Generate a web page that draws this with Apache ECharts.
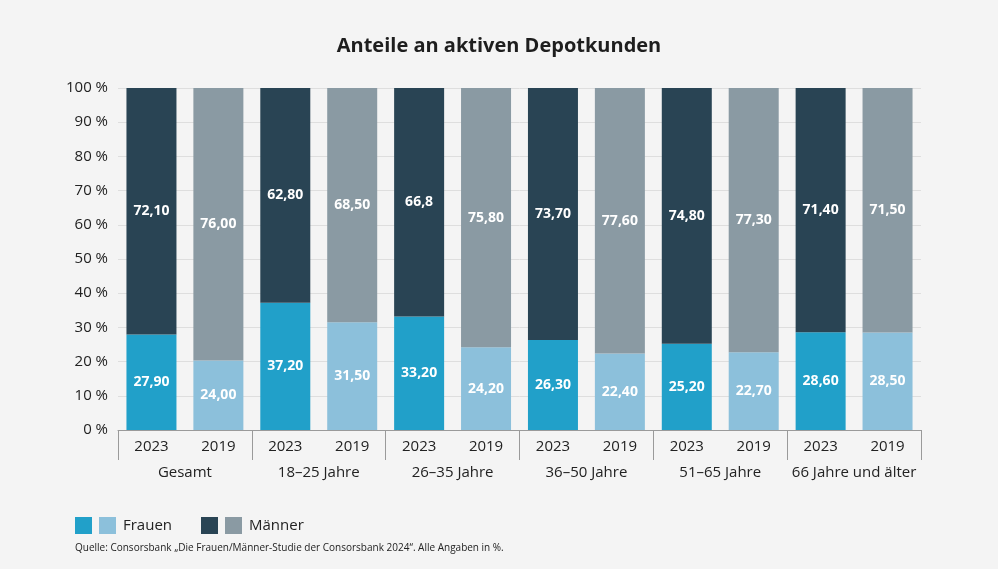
<!DOCTYPE html>
<html><head><meta charset="utf-8">
<script src="https://cdn.jsdelivr.net/npm/echarts@6/dist/echarts.min.js"></script>
<style>html,body{margin:0;padding:0;background:#f4f4f4;}#c{width:998px;height:569px;}</style>
</head><body><div id="c"></div>
<script>
const groups = ['Gesamt','18–25 Jahre','26–35 Jahre','36–50 Jahre','51–65 Jahre','66 Jahre und älter'];
const years = ['2023','2019'];
// bar heights as drawn in the reference
const frauen = [27.9,20.3,37.2,31.5,33.2,24.2,26.3,22.4,25.2,22.7,28.6,28.5];
const maenner = [72.1,79.7,62.8,68.5,66.8,75.8,73.7,77.6,74.8,77.3,71.4,71.5];
// printed value labels
const frauenLabels = ['27,90','24,00','37,20','31,50','33,20','24,20','26,30','22,40','25,20','22,70','28,60','28,50'];
const maennerLabels = ['72,10','76,00','62,80','68,50','66,8','75,80','73,70','77,60','74,80','77,30','71,40','71,50'];

const cats = [];
groups.forEach(g => years.forEach(y => cats.push(y)));
const FONT = '"Open Sans", Lato, sans-serif';
const colF = ['#21a0c9','#8cc0db'];
const colM = ['#294454','#8a9aa3'];

const chart = echarts.init(document.getElementById('c'));
chart.setOption({
  backgroundColor:'#f4f4f4',
  textStyle:{fontFamily:FONT},
  title:{text:'Anteile an aktiven Depotkunden',left:'center',top:31,
    textStyle:{fontFamily:FONT,fontWeight:'bold',fontSize:20,color:'#1e1e1e'}},
  grid:{left:118,right:77,top:88,bottom:139},
  xAxis:[{
    type:'category',data:cats,position:'bottom',
    axisLine:{lineStyle:{color:'#9a9a9a',width:1}},
    axisTick:{show:true,length:30,interval:function(i){return i%2===0;},lineStyle:{color:'#9a9a9a'}},
    axisLabel:{color:'#222',fontSize:15,margin:9,fontFamily:FONT,interval:0}
  },{
    type:'category',data:groups,position:'bottom',
    axisLine:{show:false},axisTick:{show:false},
    axisLabel:{color:'#222',fontSize:15,margin:35,fontFamily:FONT,interval:0}
  }],
  yAxis:{type:'value',min:0,max:100,interval:10,
    axisLabel:{formatter:v=>v+' %',color:'#222',fontSize:15,margin:10,fontFamily:FONT},
    axisLine:{show:false},axisTick:{show:false},
    splitLine:{lineStyle:{color:'#dedede'}}},
  series:[{
    name:'Frauen',type:'bar',stack:'s',barWidth:50,
    data:frauen.map((v,i)=>({value:v,itemStyle:{color:colF[i%2]}})),
    label:{show:true,position:'inside',color:'#fff',fontWeight:'bold',fontSize:14,fontFamily:FONT,
      formatter:p=>frauenLabels[p.dataIndex]}
  },{
    name:'Männer',type:'bar',stack:'s',barWidth:50,
    data:maenner.map((v,i)=>({value:v,itemStyle:{color:colM[i%2]}})),
    label:{show:true,position:'inside',color:'#fff',fontWeight:'bold',fontSize:14,fontFamily:FONT,
      formatter:p=>maennerLabels[p.dataIndex]}
  }],
  graphic:[
    {type:'rect',left:75,top:517,shape:{width:17,height:17},style:{fill:colF[0]}},
    {type:'rect',left:99,top:517,shape:{width:17,height:17},style:{fill:colF[1]}},
    {type:'text',left:123,top:518,style:{text:'Frauen',fontSize:15,fill:'#222',fontFamily:FONT}},
    {type:'rect',left:201,top:517,shape:{width:17,height:17},style:{fill:colM[0]}},
    {type:'rect',left:225,top:517,shape:{width:17,height:17},style:{fill:colM[1]}},
    {type:'text',left:249,top:518,style:{text:'Männer',fontSize:15,fill:'#222',fontFamily:FONT}},
    {type:'text',left:75,top:543,style:{text:'Quelle: Consorsbank „Die Frauen/Männer-Studie der Consorsbank 2024“. Alle Angaben in %.',fontSize:10,fill:'#222',fontFamily:FONT}}
  ]
});
</script></body></html>
